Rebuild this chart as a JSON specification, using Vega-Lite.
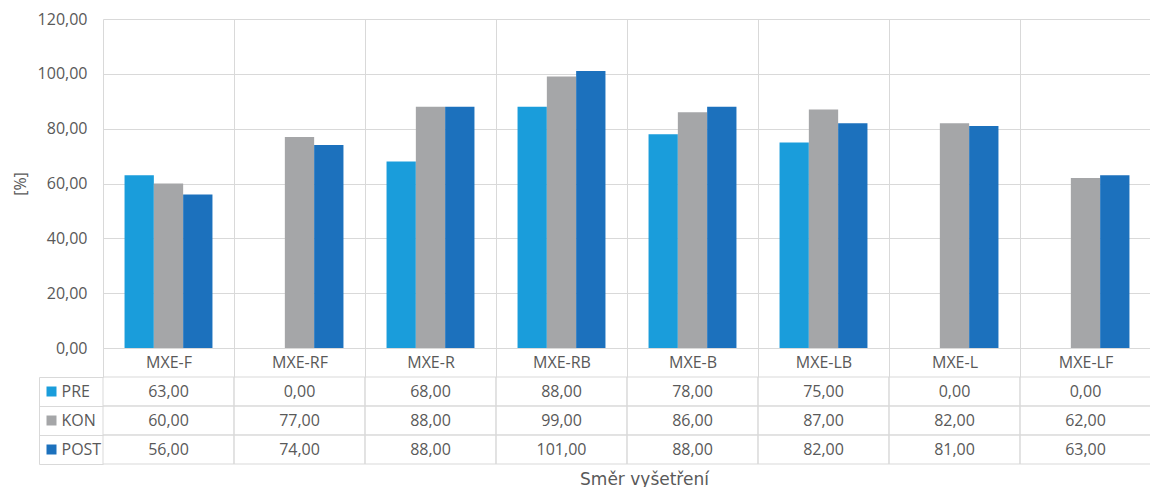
{
  "$schema": "https://vega.github.io/schema/vega-lite/v6.json",
  "background": "white",
  "padding": {"left": 12, "top": 11, "right": 0, "bottom": 0},
  "config": {
    "locale": {"number": {"decimal": ",", "thousands": " ", "grouping": [3], "currency": ["", " Kč"]}},
    "font": "Open Sans",
    "view": {"stroke": null},
    "axis": {
      "labelFont": "Open Sans",
      "labelFontSize": 16,
      "labelColor": "#595959",
      "titleFont": "Open Sans",
      "titleFontSize": 16,
      "titleFontWeight": "normal",
      "titleColor": "#595959",
      "gridColor": "#D9D9D9",
      "domainColor": "#D9D9D9",
      "tickColor": "#D9D9D9"
    }
  },
  "datasets": {
    "smery": [
      {"smer": "MXE-F", "skupina": "PRE", "hodnota": 63},
      {"smer": "MXE-F", "skupina": "KON", "hodnota": 60},
      {"smer": "MXE-F", "skupina": "POST", "hodnota": 56},
      {"smer": "MXE-RF", "skupina": "PRE", "hodnota": 0},
      {"smer": "MXE-RF", "skupina": "KON", "hodnota": 77},
      {"smer": "MXE-RF", "skupina": "POST", "hodnota": 74},
      {"smer": "MXE-R", "skupina": "PRE", "hodnota": 68},
      {"smer": "MXE-R", "skupina": "KON", "hodnota": 88},
      {"smer": "MXE-R", "skupina": "POST", "hodnota": 88},
      {"smer": "MXE-RB", "skupina": "PRE", "hodnota": 88},
      {"smer": "MXE-RB", "skupina": "KON", "hodnota": 99},
      {"smer": "MXE-RB", "skupina": "POST", "hodnota": 101},
      {"smer": "MXE-B", "skupina": "PRE", "hodnota": 78},
      {"smer": "MXE-B", "skupina": "KON", "hodnota": 86},
      {"smer": "MXE-B", "skupina": "POST", "hodnota": 88},
      {"smer": "MXE-LB", "skupina": "PRE", "hodnota": 75},
      {"smer": "MXE-LB", "skupina": "KON", "hodnota": 87},
      {"smer": "MXE-LB", "skupina": "POST", "hodnota": 82},
      {"smer": "MXE-L", "skupina": "PRE", "hodnota": 0},
      {"smer": "MXE-L", "skupina": "KON", "hodnota": 82},
      {"smer": "MXE-L", "skupina": "POST", "hodnota": 81},
      {"smer": "MXE-LF", "skupina": "PRE", "hodnota": 0},
      {"smer": "MXE-LF", "skupina": "KON", "hodnota": 62},
      {"smer": "MXE-LF", "skupina": "POST", "hodnota": 63}
    ]
  },
  "bounds": "flush",
  "spacing": 29,
  "vconcat": [
    {
      "width": 1048,
      "height": 329,
      "data": {"name": "smery"},
      "mark": {"type": "bar"},
      "encoding": {
        "x": {
          "field": "smer",
          "type": "nominal",
          "sort": ["MXE-F", "MXE-RF", "MXE-R", "MXE-RB", "MXE-B", "MXE-LB", "MXE-L", "MXE-LF"],
          "scale": {"paddingInner": 0, "paddingOuter": 0},
          "axis": {
            "title": null,
            "orient": "bottom",
            "tickBand": "extent",
            "grid": true,
            "ticks": true,
            "tickSize": 29,
            "domain": true,
            "labelAngle": 0,
            "labelBaseline": "middle",
            "labelPadding": -14.5
          }
        },
        "y": {
          "field": "hodnota",
          "type": "quantitative",
          "scale": {"domain": [0, 120], "nice": false},
          "axis": {
            "title": "[%]",
            "values": [0, 20, 40, 60, 80, 100, 120],
            "format": ".2f",
            "grid": true,
            "domain": false,
            "ticks": false,
            "labelPadding": 16,
            "titlePadding": 9
          }
        },
        "xOffset": {
          "field": "skupina",
          "type": "nominal",
          "sort": ["PRE", "KON", "POST"],
          "scale": {"paddingInner": 0, "paddingOuter": 0.735}
        },
        "color": {
          "field": "skupina",
          "type": "nominal",
          "scale": {"domain": ["PRE", "KON", "POST"], "range": ["#1A9DDB", "#A5A6A8", "#1C71BD"]},
          "legend": null
        }
      }
    },
    {
      "width": 1048,
      "height": 87,
      "data": {"name": "smery"},
      "encoding": {
        "x": {
          "field": "smer",
          "type": "nominal",
          "sort": ["MXE-F", "MXE-RF", "MXE-R", "MXE-RB", "MXE-B", "MXE-LB", "MXE-L", "MXE-LF"],
          "scale": {"paddingInner": 0, "paddingOuter": 0},
          "axis": {
            "title": "Směr vyšetření",
            "orient": "bottom",
            "labels": false,
            "ticks": false,
            "domain": false,
            "grid": false,
            "titleFont": "DejaVu Sans",
            "titleFontSize": 17,
            "titleBaseline": "alphabetic",
            "titlePadding": 20,
            "titleX": 541
          }
        }
      },
      "layer": [
        {
          "mark": {"type": "rect", "filled": false, "color": "#D9D9D9", "strokeWidth": 1},
          "encoding": {
            "y": {
              "field": "skupina",
              "type": "nominal",
              "sort": ["PRE", "KON", "POST"],
              "scale": {"paddingInner": 0, "paddingOuter": 0},
              "axis": {
                "title": null,
                "orient": "left",
                "offset": 64,
                "labels": false,
                "domain": true,
                "ticks": true,
                "tickSize": -64,
                "tickBand": "extent",
                "grid": false
              }
            }
          }
        },
        {
          "mark": {"type": "text", "font": "Open Sans", "fontSize": 16, "color": "#595959"},
          "encoding": {
            "y": {
              "field": "skupina",
              "type": "nominal",
              "sort": ["PRE", "KON", "POST"],
              "scale": {"paddingInner": 0, "paddingOuter": 0},
              "axis": {
                "title": null,
                "orient": "left",
                "offset": 47,
                "domain": false,
                "ticks": true,
                "tickSize": 10,
                "tickWidth": 10,
                "tickColor": {
                  "condition": [
                    {"test": "datum.value === 'PRE'", "value": "#1A9DDB"},
                    {"test": "datum.value === 'KON'", "value": "#A5A6A8"}
                  ],
                  "value": "#1C71BD"
                },
                "labelAlign": "left",
                "labelPadding": -15,
                "grid": false
              }
            },
            "text": {"field": "hodnota", "type": "quantitative", "format": ".2f"}
          }
        }
      ],
      "resolve": {"axis": {"y": "independent"}}
    }
  ]
}
